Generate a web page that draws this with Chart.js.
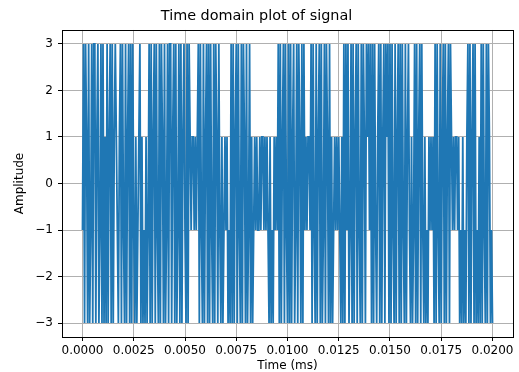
<!DOCTYPE html>
<html lang="en">
<head>
    <meta charset="UTF-8">
    <title>Time domain plot of signal</title>
    <script src="https://cdn.jsdelivr.net/npm/chart.js"></script>
    <style>
        html, body { margin: 0; padding: 0; background: #fff; }
        .wrap { width: 519px; height: 372px; }
    </style>
</head>
<body>
    <div class="wrap"><canvas id="myChart" width="519" height="372"></canvas></div>

    <script>
        // amplitude samples (4-level signal, 401 samples)
        const amplitude = [
            -1, 3, -3, 3, 1, -3, 3, -3, -1, 3, -3, 3, 3, -3, 1, 3, -3, -1, 3, -3, 3, -3,
            1, -3,
            3, -3, 1, 3, -3, 3, -3,
            1, 3,
            1, -1,
            -3, 1,
            3, -3, 3, -1, -3, 3, -3, 1, 3, -3, 3, -3, 3,
            -1, -3, 1, -3, -1,
            1, 3, -3,
            1, -3, -1, -3, 1, -3, -1,
            3, -3, 3, -3, 1, 3, -3, 3, -1, -3, 3, -3, 3, 1, -3, 3, -3, -1, 3, -3,
            3, 3, -3, 1, 3, -3, 3, -3, -1, 3, -3, 3, -3, 1, 3, -1, -3, 3, -3, 3,
            1, -1, 1, 1, -1, 1, -1, 1,
            3, -3, 3, -1, -3, 3, -3, 1, 3, -3, 3, -3, 3,
            -1, -3,
            3, -3, 3, 1, -3, 3,
            -1, -3, 1, -3,
            -1, 1, -1, 1,
            -3, -1, -3,
            3, -3, 3, -3, 1, 3, -3, 3, -1, -3, 3, -3, 3, 1, -3, 3, -3, -1, 3, -3,
            1, -3, -1,
            1, -1, 1, -1, -1, 1, -1, 1, 1, -1, 1, -1, 1, -1,
            -3, 1, -3, -1, -3,
            1, -1, 1, -1,
            3, -3, 3, -3, 1, 3, -3, 3, -1, -3, 3, -3, 3, -3, 1, 3, -3, -1, 3, -3, 3, 1, -3, 3, -3, 3,
            -1, 1, -1, 1, 1, -1,
            3, -3, 3, -1, -3, 3, -3, 1, 3, -3, 3, -3, -1, 3, -3, 3, 1, -3, 3,
            -3, 1, -3, -1,
            1, -1, 1, -1, 1, -1,
            -3, 1, -3,
            3, -3, 3, -1, 3,
            -3, -1,
            3, -3, 3, -3, 1, 3, -3, 3, -1, -3, 3, -3, 3, 1, -3, 3,
            1, 3, -1, 3,
            -3, 3, -3, 3,
            -1, -3,
            1,
            3, -3, 3, -3, 1, 3, -3, 3,
            1, 3,
            -3,
            3, -3, 3, -1, -3, 3, -3, 1, 3, -3, 3, -3, 3, -1, -3, 3, -3, 1, 3,
            -1, -3, 1, -3, -1,
            3, -3, 3, -3, 1, 3, -3, 3, -1, -3,
            1, -3, -1, -3,
            1, -1, 1, -1, 1,
            -3,
            3, -3, 3, -1, -3, 3, -3, 1, 3, -3, 3, -3, 1, 3, -3,
            3, 1,
            -1, 1, -1, 1, 1, -1, 1,
            -3, -1, -3, 1, -3, -1, -3, 1,
            3, -3, 3, -3, 1, 3, -3, 3, -3,
            -1, -3, 1, -3,
            3, -3, 3, -1, -3, 3, -3, 3,
            1, -3, -1, -3
        ];
        const sampleStep = 0.00005;   // time between samples
        const xTicks = [0, 0.0025, 0.005, 0.0075, 0.01, 0.0125, 0.015, 0.0175, 0.02];
        const yTicks = [-3, -2, -1, 0, 1, 2, 3];

        const points = amplitude.map((v, i) => ({ x: i * sampleStep, y: v }));

        const FONT = 'DejaVu Sans';

        // matplotlib style full box around the axes
        const boxPlugin = {
            id: 'box',
            afterDraw(chart) {
                const a = chart.chartArea;
                const ctx = chart.ctx;
                ctx.save();
                ctx.strokeStyle = '#000';
                ctx.lineWidth = 1;
                ctx.strokeRect(Math.round(a.left) + 0.5, Math.round(a.top) + 0.5,
                    Math.round(a.right - a.left), Math.round(a.bottom - a.top));
                ctx.restore();
            }
        };

        const ctx = document.getElementById('myChart').getContext('2d');
        const myChart = new Chart(ctx, {
            type: 'line',
            data: {
                datasets: [{
                    data: points,
                    borderColor: '#1f77b4',
                    borderWidth: 1.8,
                    pointRadius: 0,
                    tension: 0,
                    fill: false
                }]
            },
            options: {
                responsive: false,
                animation: false,
                layout: { padding: { left: 0, right: 6, top: 0, bottom: 0 } },
                plugins: {
                    legend: { display: false },
                    tooltip: { enabled: false },
                    title: {
                        display: true,
                        text: 'Time domain plot of signal',
                        color: '#000',
                        font: { family: FONT, size: 14.4, weight: 'normal', lineHeight: 1.2 },
                        padding: { top: 8, bottom: 4.7 }
                    }
                },
                scales: {
                    x: {
                        type: 'linear',
                        min: -0.001,
                        max: 0.021,
                        afterFit: s => { s.height = 35; },
                        afterBuildTicks: s => { s.ticks = xTicks.map(v => ({ value: v })); },
                        border: { display: false },
                        grid: { color: '#b0b0b0', lineWidth: 1, tickColor: '#000', tickLength: 4 },
                        ticks: {
                            color: '#000',
                            padding: 3,
                            maxRotation: 0,
                            autoSkip: false,
                            font: { family: FONT, size: 12 },
                            callback: v => v.toFixed(4)
                        },
                        title: {
                            display: true,
                            text: 'Time (ms)',
                            color: '#000',
                            font: { family: FONT, size: 12, lineHeight: 1 },
                            padding: { top: 0, bottom: 0 }
                        }
                    },
                    y: {
                        min: -3.3,
                        max: 3.3,
                        afterFit: s => { s.width = 62; },
                        afterBuildTicks: s => { s.ticks = yTicks.map(v => ({ value: v })); },
                        border: { display: false },
                        grid: { color: '#b0b0b0', lineWidth: 1, tickColor: '#000', tickLength: 4 },
                        ticks: {
                            color: '#000',
                            padding: 5,
                            font: { family: FONT, size: 12 },
                            callback: v => (v < 0 ? '\u2212' + Math.abs(v) : String(v))
                        },
                        title: {
                            display: true,
                            text: 'Amplitude',
                            color: '#000',
                            font: { family: FONT, size: 12, lineHeight: 1 },
                            padding: { top: 14, bottom: 0 }
                        }
                    }
                }
            },
            plugins: [boxPlugin]
        });
    </script>
</body>
</html>
